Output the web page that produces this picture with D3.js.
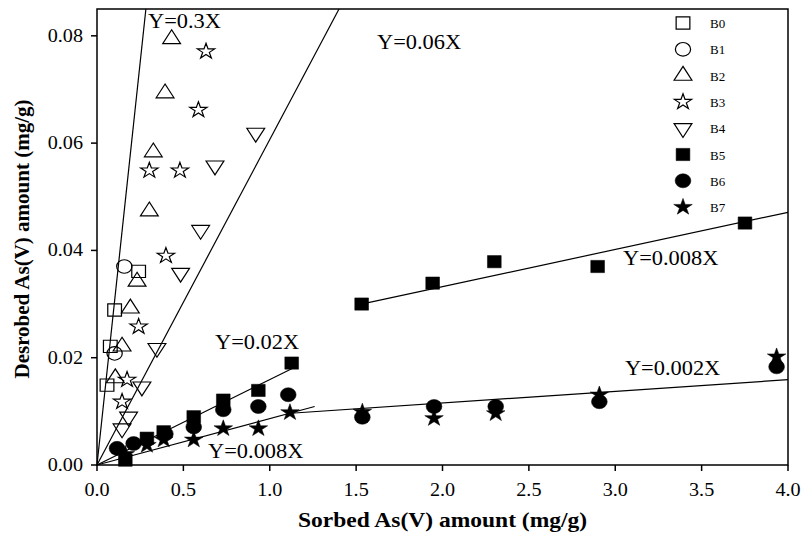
<!DOCTYPE html>
<html lang="en">
<head>
  <meta charset="UTF-8">
  <title>Desorbed vs sorbed As(V)</title>
  <style>
    body { margin: 0; background: #fff; }
    text { font-family: "Liberation Serif", "Times New Roman", serif; fill: #000; }
    .frame { fill: none; stroke: #000; stroke-width: 1.5px; }
    .fit { fill: none; stroke: #000; stroke-width: 1.2px; }
  </style>
</head>
<body>
  <div id="chart"></div>

  <script src="https://cdn.jsdelivr.net/npm/d3@7"></script>
  <script>
    // tick values
    const xTicks = [0, 0.5, 1.0, 1.5, 2.0, 2.5, 3.0, 3.5, 4.0];
    const yTicks = [0, 0.02, 0.04, 0.06, 0.08];

    // series
    const seriesNames = ["B0", "B1", "B2", "B3", "B4", "B5", "B6", "B7"];
    const B0x = [0.058, 0.077, 0.102, 0.241];
    const B0y = [0.0149, 0.0221, 0.0289, 0.0361];
    const B1x = [0.102, 0.158];
    const B1y = [0.0208, 0.0370];
    const B2x = [0.432, 0.394, 0.326, 0.303, 0.232, 0.193, 0.145, 0.106];
    const B2y = [0.0794, 0.0693, 0.0583, 0.0473, 0.0342, 0.0292, 0.0221, 0.0162];
    const B3x = [0.631, 0.587, 0.303, 0.480, 0.399, 0.241, 0.174, 0.145];
    const B3y = [0.0771, 0.0662, 0.0549, 0.0549, 0.0390, 0.0258, 0.0159, 0.0118];
    const B4x = [0.919, 0.683, 0.600, 0.484, 0.347, 0.260, 0.183, 0.145];
    const B4y = [0.0619, 0.0558, 0.0438, 0.0358, 0.0218, 0.0146, 0.0090, 0.0068];
    const B5x = [0.164, 0.289, 0.386, 0.560, 0.731, 0.934, 1.127, 1.532, 1.943, 2.300, 2.898, 3.751];
    const B5y = [0.0009, 0.0050, 0.0062, 0.0090, 0.0121, 0.0139, 0.0190, 0.0300, 0.0339, 0.0379, 0.0370, 0.0451];
    const B6x = [0.116, 0.212, 0.396, 0.560, 0.731, 0.934, 1.107, 1.536, 1.951, 2.308, 2.908, 3.934];
    const B6y = [0.0031, 0.0040, 0.0058, 0.0071, 0.0103, 0.0109, 0.0131, 0.0089, 0.0109, 0.0109, 0.0118, 0.0183];
    const B7x = [0.164, 0.289, 0.386, 0.560, 0.731, 0.934, 1.117, 1.536, 1.951, 2.308, 2.908, 3.934];
    const B7y = [0.0020, 0.0037, 0.0047, 0.0047, 0.0068, 0.0068, 0.0098, 0.0099, 0.0087, 0.0096, 0.0131, 0.0202];

    // fitted lines (segment ends) and their labels
    const fitLabels = ["Y=0.3X", "Y=0.06X", "Y=0.02X", "Y=0.008X", "Y=0.008X", "Y=0.002X"];
    const fitX0 = [0, 0, 0, 0, 1.53, 1.10];
    const fitY0 = [0, 0, 0, 0, 0.0300, 0.0096];
    const fitX1 = [0.283, 1.401, 1.13, 1.26, 4.0, 4.0];
    const fitY1 = [0.085, 0.085, 0.0180, 0.0109, 0.0471, 0.0159];
    const labelX = [0.295, 1.621, 0.683, 0.643, 3.045, 3.056];
    const labelY = [0.0814, 0.0776, 0.0216, 0.0013, 0.0372, 0.0167];

    const W = 801, H = 537;
    const margin = { top: 9, right: 13, bottom: 72, left: 97 };
    const SX = 1.12; // the figure is a little stretched sideways

    const svg = d3.select("#chart").append("svg")
      .attr("width", W)
      .attr("height", H);

    const x = d3.scaleLinear().domain([0, 4]).range([margin.left, W - margin.right]);
    const y = d3.scaleLinear().domain([0, 0.085]).range([H - margin.bottom, margin.top]);

    function stretchedText(px, py, str) {
      return svg.append("text")
        .attr("transform", `translate(${px},${py}) scale(${SX},1)`)
        .text(str);
    }

    // fit lines
    fitLabels.forEach((lab, i) => {
      svg.append("line")
        .attr("class", "fit")
        .attr("x1", x(fitX0[i])).attr("y1", y(fitY0[i]))
        .attr("x2", x(fitX1[i])).attr("y2", y(fitY1[i]));
      stretchedText(x(labelX[i]), y(labelY[i]), lab)
        .style("font-size", "20px");
    });

    // markers
    const shapes = [
      { type: d3.symbolSquare, size: 150, open: true, rot: 0 },
      { type: d3.symbolCircle, size: 145, open: true, rot: 0 },
      { type: d3.symbolTriangle, size: 110, open: true, rot: 0 },
      { type: d3.symbolStar, size: 75, open: true, rot: 0 },
      { type: d3.symbolTriangle, size: 110, open: true, rot: 180 },
      { type: d3.symbolSquare, size: 150, open: false, rot: 0 },
      { type: d3.symbolCircle, size: 155, open: false, rot: 0 },
      { type: d3.symbolStar, size: 85, open: false, rot: 0 }
    ];
    const xs = [B0x, B1x, B2x, B3x, B4x, B5x, B6x, B7x];
    const ys = [B0y, B1y, B2y, B3y, B4y, B5y, B6y, B7y];

    function drawMarker(g, s) {
      g.append("path")
        .attr("d", d3.symbol().type(s.type).size(s.size)())
        .attr("fill", s.open ? "none" : "#000")
        .attr("stroke", "#000")
        .attr("stroke-width", s.open ? 1.1 : 0.5);
    }

    seriesNames.forEach((name, i) => {
      const pts = xs[i].map((v, j) => ({ x: v, y: ys[i][j] }));
      const s = shapes[i];
      svg.selectAll(`.pt-${name}`)
        .data(pts)
        .enter().append("g")
        .attr("class", `pt-${name}`)
        .attr("transform", d => `translate(${x(d.x)},${y(d.y)}) scale(${SX},1) rotate(${s.rot})`)
        .each(function() { drawMarker(d3.select(this), s); });
    });

    // frame
    svg.append("rect")
      .attr("class", "frame")
      .attr("x", x(0)).attr("y", y(0.085))
      .attr("width", x(4) - x(0))
      .attr("height", y(0) - y(0.085));

    // ticks and tick labels
    xTicks.forEach(t => {
      svg.append("line")
        .attr("x1", x(t)).attr("x2", x(t))
        .attr("y1", y(0)).attr("y2", y(0) + 6)
        .attr("stroke", "#000").attr("stroke-width", 1.5);
      stretchedText(x(t), y(0) + 31, d3.format(".1f")(t))
        .attr("text-anchor", "middle")
        .style("font-size", "18px");
    });
    yTicks.forEach(t => {
      svg.append("line")
        .attr("x1", x(0) - 6).attr("x2", x(0))
        .attr("y1", y(t)).attr("y2", y(t))
        .attr("stroke", "#000").attr("stroke-width", 1.5);
      stretchedText(x(0) - 14, y(t) + 6, d3.format(".2f")(t))
        .attr("text-anchor", "end")
        .style("font-size", "18px");
    });

    // axis titles
    stretchedText((x(0) + x(4)) / 2, 527, "Sorbed As(V) amount (mg/g)")
      .attr("text-anchor", "middle")
      .style("font-size", "21px")
      .style("font-weight", "bold");

    svg.append("text")
      .attr("transform", `translate(29,${(y(0) + y(0.085)) / 2 + 2}) rotate(-90)`)
      .attr("text-anchor", "middle")
      .style("font-size", "21px")
      .style("font-weight", "bold")
      .text("Desrobed As(V) amount (mg/g)");

    // legend
    const legend = svg.append("g")
      .attr("transform", "translate(683, 23)");
    seriesNames.forEach((name, i) => {
      const item = legend.append("g")
        .attr("transform", `translate(0, ${i * 26.3})`);
      const mk = item.append("g")
        .attr("transform", `scale(${SX},1) rotate(${shapes[i].rot})`);
      drawMarker(mk, shapes[i]);
      item.append("text")
        .attr("x", 27)
        .attr("y", 5)
        .style("font-size", "13px")
        .text(name);
    });
  </script>
</body>
</html>
